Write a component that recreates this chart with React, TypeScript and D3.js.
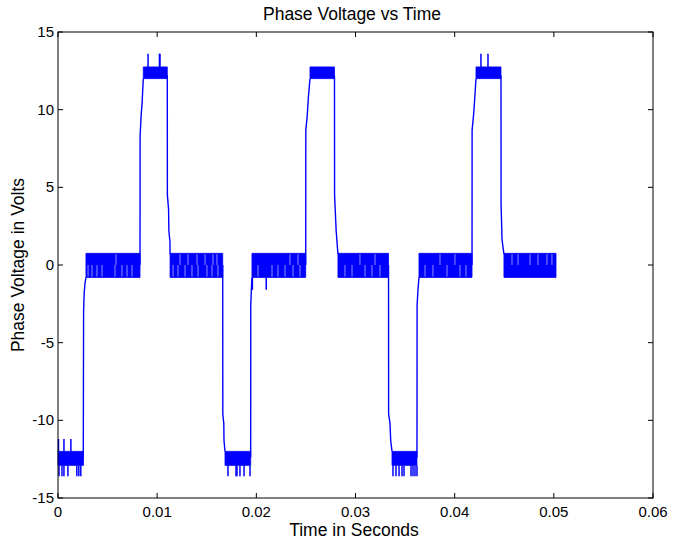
import * as d3 from "d3"

// plateau segments (toggling bands)
const segStart = [0, 0.00282, 0.0086, 0.0113, 0.01684, 0.01956, 0.02541, 0.02823, 0.03368, 0.0364, 0.04215, 0.04497]
const segEnd = [0.00257, 0.00827, 0.01102, 0.01661, 0.01943, 0.02498, 0.02788, 0.03333, 0.0362, 0.04175, 0.04467, 0.05022]
const segLow = [-12.9, -0.8, 12.0, -0.8, -12.9, -0.8, 12.0, -0.8, -12.9, -0.8, 12.0, -0.8]
const segHigh = [-12.0, 0.75, 12.75, 0.75, -12.0, 0.75, 12.75, 0.75, -12.0, 0.75, 12.75, 0.75]

// edges between plateaus, [time, volts]
const edges: [number, number][][] = [
  [[0.00255, -12.4], [0.00258, -3.0], [0.00264, -1.8], [0.00272, -1.2], [0.00282, -0.8]],
  [[0.00827, 0], [0.00828, 8.3], [0.00838, 9.6], [0.00848, 10.4], [0.0086, 12.0]],
  [[0.01102, 12.2], [0.01103, 4.5], [0.01115, 3.6], [0.01118, 2.2], [0.01129, 1.5], [0.0113, 0.7]],
  [[0.01661, 0], [0.01662, -9.6], [0.01672, -10.2], [0.01674, -11.3], [0.01684, -12.0]],
  [[0.01943, -12.4], [0.01944, -2.6], [0.0195, -1.6], [0.01956, -0.8]],
  [[0.02498, 0], [0.02499, 8.7], [0.02512, 9.5], [0.02525, 10.8], [0.02541, 12.0]],
  [[0.02788, 12.2], [0.02789, 4.5], [0.02805, 2.2], [0.02823, 0.7]],
  [[0.03333, 0], [0.03334, -9.6], [0.03348, -10.2], [0.03355, -11.3], [0.03368, -12.0]],
  [[0.0362, -12.4], [0.03621, -2.6], [0.0363, -1.6], [0.0364, -0.8]],
  [[0.04175, 0], [0.04176, 8.7], [0.0419, 9.6], [0.04203, 10.8], [0.04215, 12.0]],
  [[0.04467, 12.2], [0.04468, 3.9], [0.04478, 1.6], [0.04497, 0.7]],
]

// single spikes outside the bands: [time, from, to]
const spikes: [number, number, number][] = [
  [0.00005, -12.0, -11.2], [0.0006, -12.0, -11.2], [0.0013, -12.0, -11.2],
  [0.0001, -12.9, -13.6], [0.0004, -12.9, -13.6], [0.0006, -12.9, -13.6], [0.001, -12.9, -13.6],
  [0.0019, -12.9, -13.6], [0.0021, -12.9, -13.6], [0.0023, -12.9, -13.6],
  [0.00908, 12.75, 13.6], [0.01023, 12.75, 13.6], [0.01028, 12.75, 13.6],
  [0.01714, -12.9, -13.6], [0.01795, -12.9, -13.6], [0.01805, -12.9, -13.6], [0.01835, -12.9, -13.6],
  [0.01876, -12.9, -13.6], [0.01936, -12.9, -13.6],
  [0.0196, -0.8, -1.6], [0.021, -0.8, -1.6],
  [0.03378, -12.9, -13.6], [0.03408, -12.9, -13.6], [0.03439, -12.9, -13.6], [0.03469, -12.9, -13.6],
  [0.03489, -12.9, -13.6], [0.0356, -12.9, -13.6], [0.0358, -12.9, -13.6], [0.036, -12.9, -13.6],
  [0.0362, -12.9, -13.6],
  [0.04265, 12.75, 13.6], [0.04336, 12.75, 13.6],
]

// white gaps inside the zero bands, where the switching skipped
const gapsUpper = [
  0.00585, 0.0123, 0.01311, 0.01402, 0.01483, 0.01563, 0.01603, 0.02339, 0.0242,
  0.03045, 0.03197, 0.03852, 0.04003, 0.04578, 0.04639, 0.0476, 0.0484, 0.04931, 0.04981,
]
const gapsLower = [
  0.00303, 0.00343, 0.00393, 0.00444, 0.00575, 0.00645, 0.00696, 0.00746,
  0.0116, 0.0121, 0.01281, 0.01351, 0.01412, 0.01502, 0.01553, 0.01613,
  0.02017, 0.02158, 0.02218, 0.02289, 0.0237, 0.0244,
  0.02894, 0.02965, 0.03096, 0.03166, 0.03247, 0.03701, 0.03781, 0.03923, 0.04054, 0.04114,
]

const xTicks = [0, 0.01, 0.02, 0.03, 0.04, 0.05, 0.06]
const yTicks = [-15, -10, -5, 0, 5, 10, 15]

const W = 679
const H = 539
const left = 58
const right = 653
const top = 32
const bottom = 498
const blue = "#0000ff"
const font = "Liberation Sans, Arial, sans-serif"

export default function App() {
  const x = d3.scaleLinear().domain([0, 0.06]).range([left, right])
  const y = d3.scaleLinear().domain([-15, 15]).range([bottom, top])
  const line = d3.line<[number, number]>().x((d) => x(d[0])).y((d) => y(d[1]))
  const bands = segStart.map((s, i) => ({ s, e: segEnd[i], lo: segLow[i], hi: segHigh[i] }))
  const area = d3.area<number>().x((d) => x(d))
  const tk = 5

  return (
    <svg width={W} height={H} style={{ position: "absolute", left: 0, top: 0, background: "#fff" }}>
      <rect x={0} y={0} width={W} height={H} fill="#fff" />
      {/* bands */}
      {bands.map((b, i) => (
        <path
          key={"b" + i}
          d={area.y0(y(b.lo)).y1(y(b.hi))([b.s, b.e]) || ""}
          fill={blue}
          stroke={blue}
          strokeWidth={0.8}
        />
      ))}
      {gapsUpper.map((t, i) => (
        <line key={"gu" + i} x1={x(t)} x2={x(t)} y1={y(0.7)} y2={y(0.0)} stroke="#fff" strokeOpacity={0.55} strokeWidth={1} />
      ))}
      {gapsLower.map((t, i) => (
        <line key={"gl" + i} x1={x(t)} x2={x(t)} y1={y(0.0)} y2={y(-0.75)} stroke="#fff" strokeOpacity={0.55} strokeWidth={1} />
      ))}
      {edges.map((e, i) => (
        <path key={"e" + i} d={line(e) || ""} fill="none" stroke={blue} strokeWidth={1.4} />
      ))}
      {spikes.map((s, i) => (
        <line key={"s" + i} x1={x(s[0])} x2={x(s[0])} y1={y(s[1])} y2={y(s[2])} stroke={blue} strokeWidth={1.5} />
      ))}

      {/* axes box */}
      <rect x={left} y={top} width={right - left} height={bottom - top} fill="none" stroke="#000" strokeWidth={1} />
      {xTicks.map((t) => (
        <g key={"x" + t}>
          <line x1={x(t)} x2={x(t)} y1={bottom} y2={bottom - tk} stroke="#000" />
          <line x1={x(t)} x2={x(t)} y1={top} y2={top + tk} stroke="#000" />
          <text x={x(t)} y={bottom + 19} textAnchor="middle" fontFamily={font} fontSize={15}>
            {t}
          </text>
        </g>
      ))}
      {yTicks.map((t) => (
        <g key={"y" + t}>
          <line x1={left} x2={left + tk} y1={y(t)} y2={y(t)} stroke="#000" />
          <line x1={right} x2={right - tk} y1={y(t)} y2={y(t)} stroke="#000" />
          <text x={left - 4} y={y(t) + 5} textAnchor="end" fontFamily={font} fontSize={15}>
            {t}
          </text>
        </g>
      ))}
      <text x={352} y={20} textAnchor="middle" fontFamily={font} fontSize={17.5}>
        Phase Voltage vs Time
      </text>
      <text x={354} y={536} textAnchor="middle" fontFamily={font} fontSize={17.5}>
        Time in Seconds
      </text>
      <text
        transform={`translate(24, ${(top + bottom) / 2}) rotate(-90)`}
        textAnchor="middle"
        fontFamily={font}
        fontSize={17.5}
      >
        Phase Voltage in Volts
      </text>
    </svg>
  )
}
